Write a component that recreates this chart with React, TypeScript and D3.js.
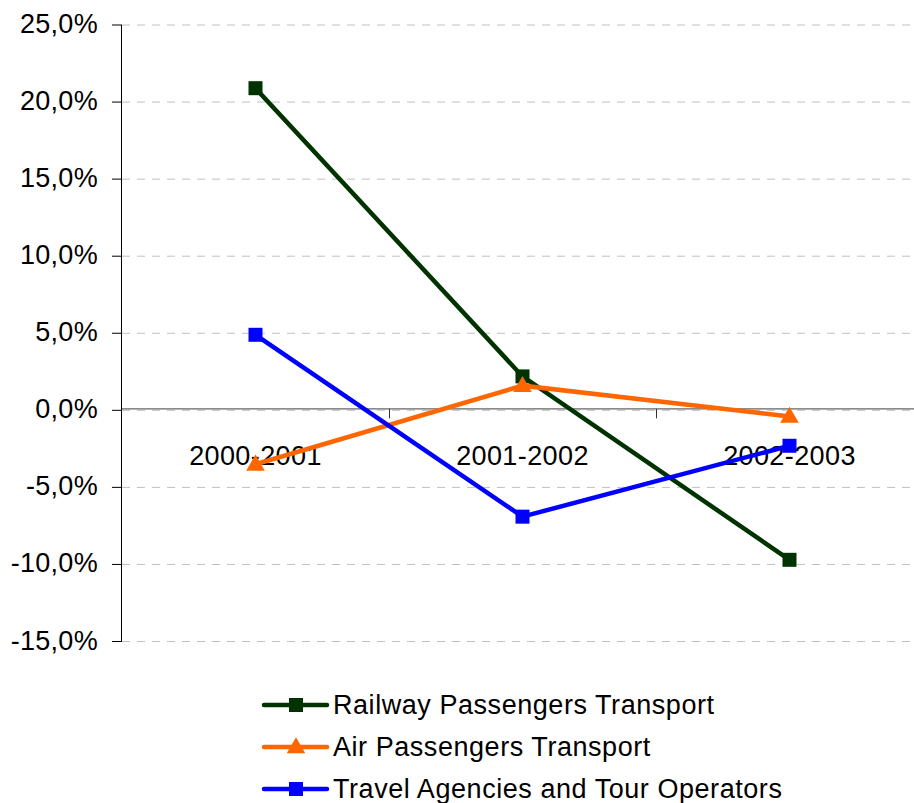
import React from "react";
import * as d3 from "d3";

const categories = ["2000-2001", "2001-2002", "2002-2003"];
const railway = [20.9, 2.2, -9.7];
const air = [-3.5, 1.6, -0.4];
const travel = [4.9, -6.9, -2.3];
const yTicks = [25, 20, 15, 10, 5, 0, -5, -10, -15];

const seriesNames = ["Railway Passengers Transport", "Air Passengers Transport", "Travel Agencies and Tour Operators"];
const seriesColors = ["#003300", "#FF6600", "#0000FF"];
const seriesMarkers = ["square", "triangle", "square"];

const W = 914;
const H = 803;
const FONT = "'Liberation Sans', Arial, sans-serif";

function Marker({ type, x, y, color }: { type: string; x: number; y: number; color: string }) {
  if (type === "square") {
    return <rect x={x - 7} y={y - 7} width={14} height={14} fill={color} />;
  }
  const p = d3.symbol(d3.symbolTriangle, 150)();
  return <path d={p || ""} transform={`translate(${x},${y + 1})`} fill={color} />;
}

export default function App() {
  const y = d3.scaleLinear().domain([-15, 25]).range([641.5, 25]);
  const x = d3.scaleBand().domain(categories).range([122, 923]);
  const cx = (c: string) => (x(c) as number) + x.bandwidth() / 2;
  const data = [railway, air, travel];
  const line = d3
    .line<number>()
    .x((_, i) => cx(categories[i]))
    .y((d) => y(d));
  const y0 = y(0);

  return (
    <svg width={W} height={H} style={{ position: "absolute", left: 0, top: 0, background: "#fff" }} fontFamily={FONT}>
      <rect width={W} height={H} fill="#fff" />
      {yTicks.map((t) => (
        <g key={t}>
          <line x1={122} x2={W} y1={y(t)} y2={y(t)} stroke="#c0c0c0" strokeWidth={1} strokeDasharray="8,7" />
          <line x1={112} x2={122} y1={y(t)} y2={y(t)} stroke="#000" strokeWidth={1} />
          <text x={98} y={y(t) + 8} textAnchor="end" fontSize={27} fill="#000" letterSpacing={0.3}>
            {t.toFixed(1).replace(".", ",") + "%"}
          </text>
        </g>
      ))}
      <line x1={121.5} x2={121.5} y1={25} y2={641.5} stroke="#000" strokeWidth={1} />
      <line x1={122} x2={W} y1={y0 - 1.5} y2={y0 - 1.5} stroke="#666" strokeWidth={1.2} />
      {categories.slice(1).map((c) => (
        <line key={c} x1={(x(c) as number) + 0.5} x2={(x(c) as number) + 0.5} y1={y0 - 1.5} y2={y0 + 8} stroke="#333" strokeWidth={1} />
      ))}
      {categories.map((c) => (
        <text key={c} x={cx(c)} y={465} textAnchor="middle" fontSize={27} fill="#000" letterSpacing={0.4}>
          {c}
        </text>
      ))}
      {data.map((s, si) => (
        <g key={si}>
          <path d={line(s) || ""} fill="none" stroke={seriesColors[si]} strokeWidth={4.5} />
          {s.map((v, i) => (
            <Marker key={i} type={seriesMarkers[si]} x={cx(categories[i])} y={y(v)} color={seriesColors[si]} />
          ))}
        </g>
      ))}
      {seriesNames.map((n, i) => {
        const ly = 705 + i * 42;
        return (
          <g key={n}>
            <line x1={264} x2={327} y1={ly} y2={ly} stroke={seriesColors[i]} strokeWidth={4.5} strokeLinecap="round" />
            <Marker type={seriesMarkers[i]} x={296} y={ly} color={seriesColors[i]} />
            <text x={333} y={ly + 9} fontSize={27} fill="#000" letterSpacing={0.55}>
              {n}
            </text>
          </g>
        );
      })}
    </svg>
  );
}
